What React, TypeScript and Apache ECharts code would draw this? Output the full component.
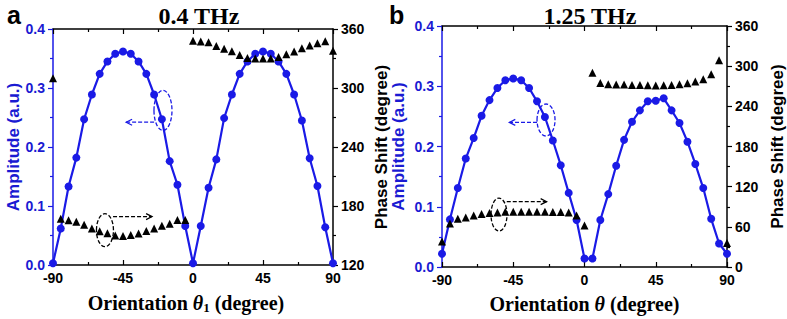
import React, { useEffect, useRef } from "react";
import * as echarts from "echarts";

// Orientation angles (degree)
const angles = [
  -90, -85, -80, -75, -70, -65, -60, -55, -50, -45, -40, -35, -30, -25, -20, -15, -10, -5,
  0, 5, 10, 15, 20, 25, 30, 35, 40, 45, 50, 55, 60, 65, 70, 75, 80, 85, 90,
];

// Panel a: 0.4 THz
const ampA = [
  0.003, 0.062, 0.133, 0.182, 0.247, 0.289, 0.324, 0.345, 0.358, 0.362, 0.358, 0.345, 0.324, 0.289, 0.247, 0.176, 0.136, 0.066,
  0.003, 0.066, 0.131, 0.179, 0.249, 0.289, 0.324, 0.345, 0.358, 0.362, 0.358, 0.345, 0.324, 0.289, 0.245, 0.181, 0.134, 0.064, 0.003,
];
const phaseA = [
  310, 167, 165.5, 164, 161, 157, 154.2, 152.2, 150, 149.6, 150.5, 152, 154.6, 157, 160, 162, 165.8, 165.8,
  348, 347.3, 346.5, 342.8, 340, 337.5, 333.5, 330.5, 330, 330, 330, 331.5, 334.4, 337, 340.4, 343.3, 345.6, 347.5, 338,
];

// Panel b: 1.25 THz
const ampB = [
  0.022, 0.079, 0.131, 0.18, 0.214, 0.251, 0.277, 0.297, 0.31, 0.313, 0.31, 0.297, 0.275, 0.249, 0.21, 0.169, 0.123, 0.078,
  0.014, 0.014, 0.078, 0.121, 0.168, 0.211, 0.241, 0.26, 0.275, 0.276, 0.28, 0.26, 0.239, 0.208, 0.171, 0.131, 0.08, 0.039, 0.022,
];
const phaseB = [
  38, 65, 72, 74, 77, 79, 80.5, 81.5, 82.5, 82.5, 82.5, 82.5, 82.5, 82.5, 82, 82, 81.5, 77,
  62, 290, 275, 273, 272.5, 272.5, 272, 272, 271.5, 271, 271.5, 272, 273, 274.5, 277, 280.5, 288, 309, 36,
];

const xTicks = { min: -90, max: 90, interval: 45 };
const ampTicks = { min: 0, max: 0.4, interval: 0.1 };
const phaseTicksA = { min: 120, max: 360, interval: 60 };
const phaseTicksB = { min: 0, max: 360, interval: 60 };

const titles = ["0.4 THz", "1.25 THz"];
const panelLetters = ["a", "b"];
const xNames = ["Orientation {i|θ}{s|1} (degree)", "Orientation {i|θ} (degree)"];
const leftName = "Amplitude (a.u.)";
const rightName = "Phase Shift (degree)";

const BLUE = "#1a1ae6";
const BLUE_TEXT = "#1a1ad2";
const SANS = "'Liberation Sans', Arial, sans-serif";
const SERIF = "'Liberation Serif', 'Times New Roman', serif";

function xBottom(grid: number, name: string, shift: number) {
  return {
    type: "value",
    gridIndex: grid,
    position: "bottom",
    ...xTicks,
    axisLine: { onZero: false, lineStyle: { color: "#000", width: 1.5 } },
    axisTick: { inside: true, length: 5, lineStyle: { color: "#000", width: 1.2 } },
    minorTick: { show: true, splitNumber: 2, length: 3, lineStyle: { color: "#000", width: 1.2 } },
    splitLine: { show: false },
    axisLabel: { color: "#000", fontFamily: SANS, fontWeight: "bold", fontSize: 14, margin: 6 },
    name,
    nameLocation: "middle",
    nameGap: 27,
    nameTextStyle: {
      color: "#000",
      fontFamily: SERIF,
      fontWeight: "bold",
      fontSize: 20,
      padding: [0, shift, 0, 0],
      rich: {
        i: { fontFamily: SERIF, fontWeight: "bold", fontStyle: "italic", fontSize: 20, color: "#000" },
        s: { fontFamily: SERIF, fontWeight: "bold", fontSize: 13, color: "#000", padding: [9, 0, 0, 0], verticalAlign: "bottom" },
      },
    },
  };
}

function xTop(grid: number) {
  return {
    type: "value",
    gridIndex: grid,
    position: "top",
    ...xTicks,
    axisLine: { onZero: false, lineStyle: { color: "#000", width: 1.5 } },
    axisTick: { inside: true, length: 5, lineStyle: { color: "#000", width: 1.2 } },
    minorTick: { show: true, splitNumber: 2, length: 3, lineStyle: { color: "#000", width: 1.2 } },
    splitLine: { show: false },
    axisLabel: { show: false },
  };
}

function yLeft(grid: number, gap: number) {
  return {
    type: "value",
    gridIndex: grid,
    position: "left",
    ...ampTicks,
    axisLine: { show: true, onZero: false, lineStyle: { color: BLUE, width: 1.5 } },
    axisTick: { show: true, length: 5, lineStyle: { color: BLUE, width: 1.2 } },
    minorTick: { show: true, splitNumber: 2, length: 3, lineStyle: { color: BLUE, width: 1.2 } },
    splitLine: { show: false },
    axisLabel: {
      color: BLUE_TEXT,
      fontFamily: SANS,
      fontWeight: "bold",
      fontSize: 14,
      margin: 8,
      formatter: (v: number) => v.toFixed(1),
    },
    name: leftName,
    nameLocation: "middle",
    nameRotate: 90,
    nameGap: gap,
    nameTextStyle: { color: BLUE_TEXT, fontFamily: SANS, fontWeight: "bold", fontSize: 17 },
  };
}

function yRight(grid: number, ticks: { min: number; max: number; interval: number }, gap: number) {
  return {
    type: "value",
    gridIndex: grid,
    position: "right",
    ...ticks,
    axisLine: { show: true, onZero: false, lineStyle: { color: "#000", width: 1.5 } },
    axisTick: { show: true, length: 5, lineStyle: { color: "#000", width: 1.2 } },
    minorTick: { show: true, splitNumber: 2, length: 3, lineStyle: { color: "#000", width: 1.2 } },
    splitLine: { show: false },
    axisLabel: { color: "#000", fontFamily: SANS, fontWeight: "bold", fontSize: 14, margin: 8 },
    name: rightName,
    nameLocation: "middle",
    nameRotate: 90,
    nameGap: gap,
    nameTextStyle: { color: "#000", fontFamily: SANS, fontWeight: "bold", fontSize: 17 },
  };
}

function ampSeries(xi: number, yi: number, vals: number[]) {
  return {
    type: "line",
    xAxisIndex: xi,
    yAxisIndex: yi,
    data: angles.map((a, i) => [a, vals[i]]),
    symbol: "circle",
    symbolSize: 8,
    showAllSymbol: true,
    itemStyle: { color: BLUE, opacity: 1 },
    lineStyle: { color: BLUE, width: 2.2 },
    z: 3,
  };
}

function phaseSeries(xi: number, yi: number, vals: number[]) {
  return {
    type: "scatter",
    xAxisIndex: xi,
    yAxisIndex: yi,
    data: angles.map((a, i) => [a, vals[i]]),
    symbol: "triangle",
    symbolSize: 8,
    itemStyle: { color: "#000", opacity: 1 },
    z: 4,
  };
}

// Annotation anchors in data coordinates (angle, amplitude), radii in px
const annotations = [
  { xi: 0, yi: 0, color: BLUE, ell: [-19.3, 0.262, 9, 20], arrow: [-25, -43, 0.242] },
  { xi: 0, yi: 0, color: "#000", ell: [-56.6, 0.059, 8.5, 16.5], arrow: [-51.4, -26.3, 0.082] },
  { xi: 2, yi: 2, color: BLUE, ell: [-24.3, 0.244, 9, 16], arrow: [-30, -47.5, 0.24] },
  { xi: 2, yi: 2, color: "#000", ell: [-54, 0.087, 8, 16.5], arrow: [-49.1, -23.9, 0.1085] },
];

export default function App() {
  const ref = useRef<HTMLDivElement>(null);
  useEffect(() => {
    const chart = echarts.init(ref.current!, null, { renderer: "svg" });
    const option: any = {
      animation: false,
      backgroundColor: "#fff",
      grid: [
        { left: 53, right: 454, top: 29, bottom: 54 },
        { left: 442, right: 60, top: 26, bottom: 52 },
      ],
      xAxis: [xBottom(0, xNames[0], 14), xTop(0), xBottom(1, xNames[1], 0), xTop(1)],
      yAxis: [yLeft(0, 29), yRight(0, phaseTicksA, 40), yLeft(1, 35), yRight(1, phaseTicksB, 42)],
      series: [
        ampSeries(0, 0, ampA),
        phaseSeries(0, 1, phaseA),
        ampSeries(2, 2, ampB),
        phaseSeries(2, 3, phaseB),
      ],
    };
    chart.setOption(option);

    const elements: any[] = [];
    const textEl = (text: string, x: number, y: number, font: string, align: string) => ({
      type: "text",
      x,
      y,
      style: { text, font, fill: "#000", textAlign: align, align, textVerticalAlign: "middle", verticalAlign: "middle" },
    });
    elements.push(textEl(panelLetters[0], 7, 15, `bold 25px ${SANS}`, "left"));
    elements.push(textEl(panelLetters[1], 389, 15, `bold 25px ${SANS}`, "left"));
    elements.push(textEl(titles[0], 199, 16, `bold 24px ${SERIF}`, "center"));
    elements.push(textEl(titles[1], 590, 16, `bold 24px ${SERIF}`, "center"));

    annotations.forEach((an) => {
      const finder = { xAxisIndex: an.xi, yAxisIndex: an.yi };
      const c = chart.convertToPixel(finder, [an.ell[0], an.ell[1]]) as number[];
      const p1 = chart.convertToPixel(finder, [an.arrow[0], an.arrow[2]]) as number[];
      const p2 = chart.convertToPixel(finder, [an.arrow[1], an.arrow[2]]) as number[];
      elements.push({
        type: "ellipse",
        shape: { cx: c[0], cy: c[1], rx: an.ell[2], ry: an.ell[3] },
        style: { fill: "none", stroke: an.color, lineWidth: 1.3, lineDash: [4, 2] },
        z: 10,
      });
      elements.push({
        type: "line",
        shape: { x1: p1[0], y1: p1[1], x2: p2[0], y2: p2[1] },
        style: { stroke: an.color, lineWidth: 1.3, lineDash: [4, 2] },
        z: 10,
      });
      const dir = p2[0] > p1[0] ? 1 : -1;
      elements.push({
        type: "polyline",
        shape: {
          points: [
            [p2[0] - dir * 6, p2[1] - 3],
            [p2[0], p2[1]],
            [p2[0] - dir * 6, p2[1] + 3],
          ],
        },
        style: { fill: "none", stroke: an.color, lineWidth: 1.2 },
        z: 10,
      });
    });
    chart.setOption({ graphic: { elements } });

    return () => chart.dispose();
  }, []);
  return (
    <div
      ref={ref}
      style={{ position: "fixed", left: 0, top: 0, width: 787, height: 319, background: "#fff" }}
    />
  );
}
